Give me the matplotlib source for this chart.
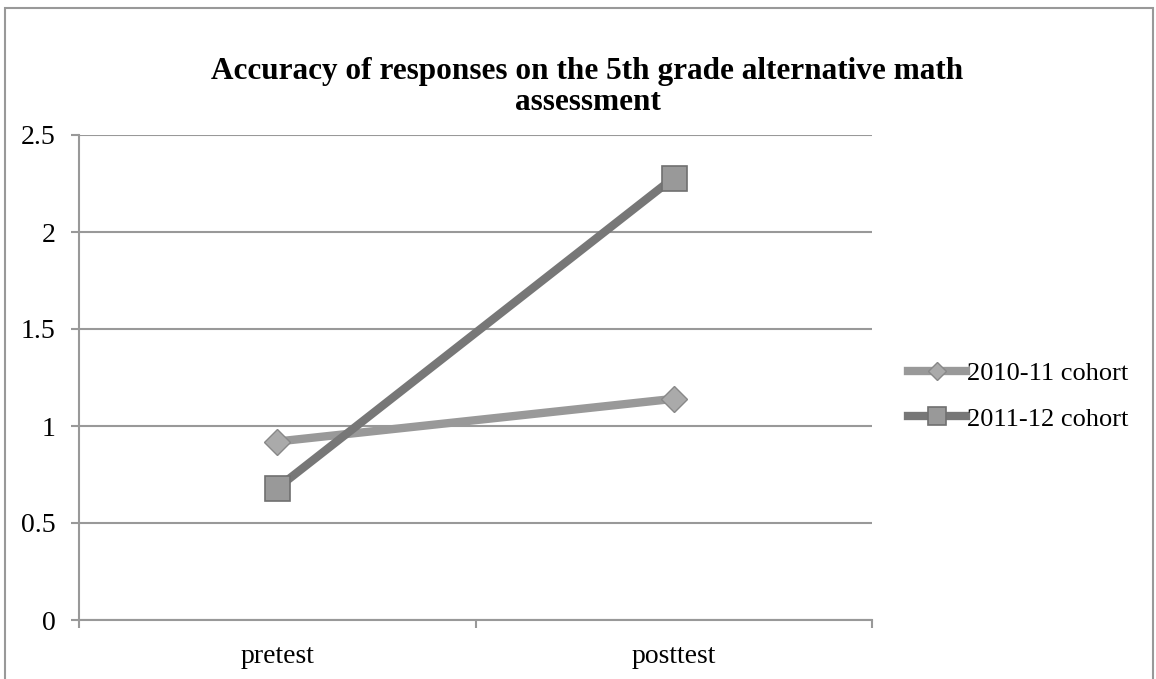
import matplotlib
matplotlib.use("Agg")
import matplotlib.pyplot as plt
from matplotlib.patches import Rectangle

categories = ["pretest", "posttest"]
series_names = ["2010-11 cohort", "2011-12 cohort"]
cohort_2010 = [0.92, 1.14]
cohort_2011 = [0.68, 2.28]
yticks = [0, 0.5, 1, 1.5, 2, 2.5]
ytick_labels = ["0", "0.5", "1", "1.5", "2", "2.5"]

plt.rcParams['font.family'] = ['Liberation Serif', 'DejaVu Serif']

W, H = 1156, 679
fig = plt.figure(figsize=(W/100, H/100), dpi=100)
fig.patch.set_facecolor('white')
# outer chart frame
fig.add_artist(Rectangle((5/W, -0.05), (1153-5)/W, 1 - 8/H + 0.05, transform=fig.transFigure,
                         fill=False, edgecolor='#999999', linewidth=1.5))

left, right, top, bottom = 79, 872, 135, 620
ax = fig.add_axes([left/W, 1 - bottom/H, (right-left)/W, (bottom-top)/H])
ax.set_xlim(-0.5, 1.5)
ax.set_ylim(0, 2.5)
ax.set_yticks(yticks)
ax.set_yticklabels(ytick_labels)
ax.yaxis.grid(True, color='#999999', linewidth=1.5)
ax.set_axisbelow(True)
for s in ['top', 'right']:
    ax.spines[s].set_visible(False)
for s in ['left', 'bottom']:
    ax.spines[s].set_color('#999999')
    ax.spines[s].set_linewidth(1.5)
ax.tick_params(axis='y', length=6, color='#999999', width=1.5, labelsize=20, pad=11)
ax.set_xticks([0, 1])
ax.set_xticklabels(categories)
ax.set_xticks([-0.5, 0.5, 1.5], minor=True)
ax.tick_params(axis='x', which='major', length=0, labelsize=20, pad=17)
ax.tick_params(axis='x', which='minor', length=6, color='#999999', width=1.5)

x = list(range(len(categories)))
ax.plot(x, cohort_2010, color='#999999', linewidth=6, marker='D', markersize=13,
        markerfacecolor='#aaaaaa', markeredgecolor='#888888', markeredgewidth=1,
        label=series_names[0], zorder=3)
ax.plot(x, cohort_2011, color='#777777', linewidth=6, marker='s', markersize=18,
        markerfacecolor='#999999', markeredgecolor='#707070', markeredgewidth=1.2,
        label=series_names[1], zorder=4)

fig.text(0.5 * (205 + 970) / W, 1 - 87/H,
         "Accuracy of responses on the 5th grade alternative math\nassessment",
         ha='center', va='center', fontsize=22.5, fontweight='bold', linespacing=1.12)

leg = ax.legend(loc='center left',
                bbox_to_anchor=((908 - left)/(right-left), (bottom-396)/(bottom-top)),
                bbox_transform=ax.transAxes, frameon=False, fontsize=19, handlelength=2.2,
                handletextpad=0.05, labelspacing=0.85, borderaxespad=0, borderpad=0,
                markerscale=0.7)

fig.savefig("out.png", dpi=100, facecolor='white')
